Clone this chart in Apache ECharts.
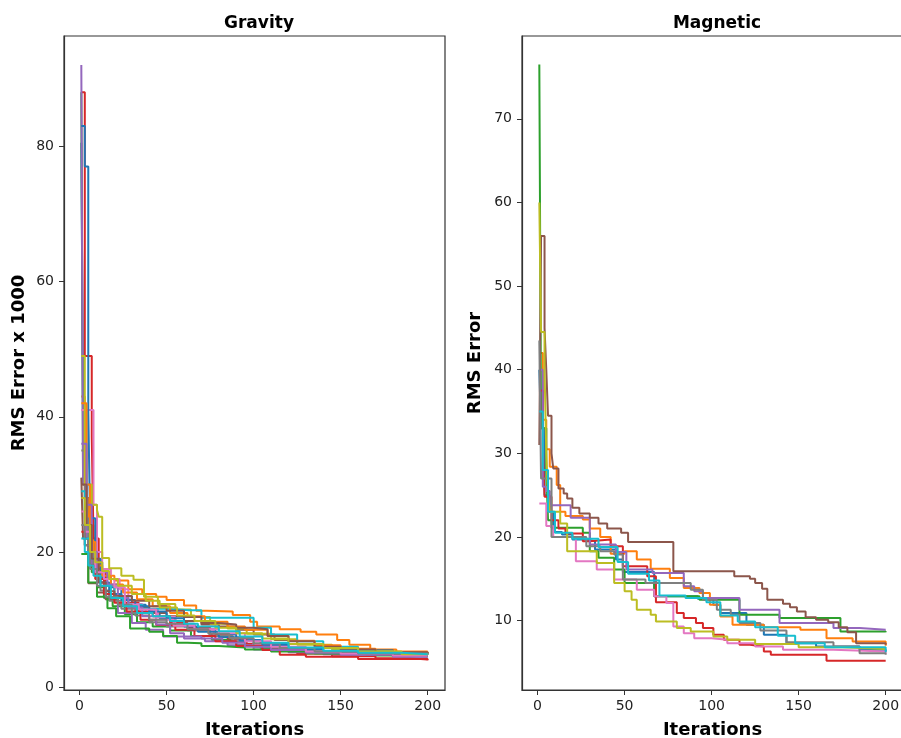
<!DOCTYPE html>
<html>
<head>
<meta charset="utf-8">
<script src="https://cdn.jsdelivr.net/npm/echarts@6/dist/echarts.min.js"></script>
<style>
  html, body { margin: 0; padding: 0; background: #fff; }
  #chart { width: 901px; height: 738px; }
</style>
</head>
<body>
<div id="chart"></div>
<script>
// tick labels
let xTicks = [0, 50, 100, 150, 200];
let gravTicks = [0, 20, 40, 60, 80];
let magTicks = [10, 20, 30, 40, 50, 60, 70];

// matplotlib tab10
let colors = ["#1f77b4", "#ff7f0e", "#2ca02c", "#d62728", "#9467bd",
              "#8c564b", "#e377c2", "#7f7f7f", "#bcbd22", "#17becf"];

// gravity runs: [iteration, rms error x 1000] at each change
let g01 = [[1,80.5],[2,41],[4,28],[6,22],[9,18.5],[13,16.2],[18,14.8],[24,13.5],[30,12.2],[38,11.0],[46,10.2],[55,9.4],[66,8.6],[78,7.8],[90,7.0],[104,6.4],[120,5.8],[140,5.3],[165,4.9],[185,4.6],[200,4.6]];
let g02 = [[1,43],[3,28],[5,24],[8,20],[10,17.5],[14,16.5],[20,15.8],[28,14.5],[36,13.8],[44,13.4],[50,12.9],[60,12.1],[67,11.3],[73,11.2],[88,10.7],[98,9.7],[102,9.0],[115,8.6],[127,8.2],[136,7.8],[148,7.0],[155,6.3],[167,5.6],[182,5.2],[200,5.0]];
let g03 = [[1,88],[2,30],[4,22],[7,17],[10,14.8],[14,13.2],[19,12.0],[26,10.8],[33,9.6],[42,9.0],[52,8.4],[64,7.6],[76,7.0],[90,6.3],[104,5.8],[120,5.3],[140,5.0],[165,4.7],[200,4.6]];
let g04 = [[1,88],[3,49],[7,37],[8,22],[11,17.5],[15,15.0],[20,13.5],[26,12.5],[34,11.2],[42,10.5],[52,9.5],[62,8.8],[75,7.8],[85,7.2],[96,6.4],[110,5.6],[125,5.0],[145,4.6],[170,4.3],[190,4.1],[200,4.1]];
let g05 = [[1,92],[2,30],[4,22],[7,18],[10,15.5],[15,13.0],[22,11.0],[30,9.5],[38,8.5],[48,7.5],[60,7.2],[72,6.8],[85,6.2],[100,5.6],[120,5.2],[140,4.9],[165,4.7],[200,4.6]];
let g06 = [[1,31],[2,22],[5,15.4],[10,14.0],[15,13.0],[22,12.4],[30,11.8],[40,11.0],[50,10.5],[60,9.8],[70,9.3],[80,9.0],[90,8.5],[100,7.8],[112,7.0],[125,6.4],[140,5.9],[160,5.5],[180,5.0],[200,4.9]];
let g07 = [[1,41],[8,27],[10,20],[13,17.5],[18,16.0],[23,14.5],[28,12.3],[36,11.5],[45,10.4],[55,9.3],[66,8.5],[77,7.6],[88,6.9],[100,6.2],[115,5.6],[135,5.2],[160,4.9],[185,4.6],[200,4.5]];
let g08 = [[1,35],[3,25],[5,20],[8,17],[12,14.3],[17,12.8],[24,11.6],[32,10.6],[40,9.6],[50,9.0],[62,8.4],[75,7.6],[88,6.8],[100,6.0],[115,5.4],[135,5.0],[160,4.8],[200,4.7]];
let g09 = [[1,49],[3,30],[7,27],[10,26.2],[11,25.2],[13,19.1],[17,17.6],[24,16.5],[31,15.9],[37,13.4],[45,12.3],[55,11.5],[64,10.4],[75,9.4],[85,8.7],[96,7.9],[110,7.1],[125,6.3],[145,5.6],[170,5.2],[200,5.0]];
let g10 = [[1,29],[3,22],[6,19],[9,16.5],[14,15],[20,13.4],[28,12.2],[36,11.6],[50,11.4],[63,11.4],[70,10.3],[92,10.3],[100,8.8],[110,7.8],[125,6.8],[140,6.0],[160,5.4],[180,5.0],[200,4.8]];
let g11 = [[1,83],[3,77],[5,41],[6,25],[9,19],[12,15.5],[17,13.8],[24,12.9],[32,12.0],[40,11.2],[50,10.2],[60,9.0],[68,8.2],[80,7.4],[92,6.9],[105,6.2],[120,5.6],[140,5.2],[160,4.9],[185,4.6],[200,4.5]];
let g12 = [[1,42],[4,30],[6,21.5],[9,18.0],[13,16.5],[18,15.2],[25,14.0],[33,13.0],[42,12.0],[52,11.0],[62,10.5],[72,9.7],[85,9.0],[95,8.5],[108,7.6],[120,6.9],[135,6.2],[150,5.7],[170,5.3],[200,5.2]];
let g13 = [[1,19.7],[5,15.5],[10,13.4],[16,11.7],[21,10.5],[29,8.7],[40,8.2],[48,7.6],[56,6.6],[62,6.5],[70,6.1],[80,5.9],[95,5.6],[110,5.3],[130,5.0],[150,4.8],[175,4.6],[200,4.5]];
let g14 = [[1,23],[3,21],[6,18],[9,16.0],[14,13.8],[20,12.5],[27,11.2],[35,10.0],[44,9.2],[55,8.5],[66,7.6],[78,6.8],[90,6.1],[105,5.5],[115,4.8],[130,4.5],[160,4.2],[200,4.0]];
let g15 = [[1,36],[4,27],[7,20],[10,17.0],[16,15.2],[22,13.2],[28,11.8],[36,10.5],[44,9.3],[52,8.0],[60,7.5],[70,7.2],[82,6.6],[95,6.0],[110,5.5],[130,5.1],[150,4.8],[180,4.5],[200,4.4]];
let g16 = [[1,30],[4,24],[7,19],[11,15.5],[15,14.2],[20,13.5],[30,12.8],[40,12.0],[50,11.3],[60,10.4],[70,9.5],[80,9.3],[90,8.8],[100,8.6],[108,7.6],[120,6.8],[135,6.0],[150,5.6],[170,5.2],[200,5.0]];
let g17 = [[1,26],[3,23],[6,20],[9,17],[14,16.0],[20,14.8],[26,12.2],[34,11.5],[44,10.0],[54,9.1],[66,8.6],[80,8.0],[95,6.8],[110,6.0],[130,5.3],[150,5.0],[180,4.7],[200,4.6]];
let g18 = [[1,24],[3,21],[6,17.5],[10,15.0],[15,13.4],[22,12.2],[30,11.0],[40,10.0],[50,9.4],[62,8.6],[74,7.9],[86,7.3],[100,6.5],[115,5.8],[135,5.3],[160,5.0],[200,4.8]];
let g19 = [[1,28],[3,24],[6,20],[9,18.5],[13,17.2],[17,16.0],[22,15.0],[30,13.8],[38,12.8],[46,11.8],[56,10.6],[66,9.8],[78,8.8],[90,8.0],[105,7.2],[120,6.4],[140,5.8],[160,5.3],[185,4.9],[200,4.8]];
let g20 = [[1,22],[3,20],[5,18],[8,16.5],[12,15.0],[18,13.2],[25,12.0],[33,11.0],[42,10.5],[52,9.8],[60,9.4],[68,9.0],[80,8.3],[92,7.5],[105,6.6],[120,5.9],[140,5.4],[160,5.1],[185,4.9],[200,4.8]];

// magnetic runs: [iteration, rms error]
let m01 = [[1,40],[2,33],[4,25],[7,23],[9,21],[10,20.6],[14,20.3],[20,19.7],[28,19.5],[33,18.5],[45,17.3],[49,15.8],[67,12.9],[92,12.6],[101,11.9],[105,10.9],[120,9.5],[130,8.3],[143,7.3],[160,6.9],[185,6.5],[200,6.3]];
let m02 = [[1,42],[3,34],[5,30.5],[7,28.4],[11,26.2],[13,23],[16,22.5],[26,22.1],[30,21],[36,20],[42,18],[50,18.3],[57,17.3],[65,16.2],[76,15.1],[84,13.9],[93,13.3],[99,11.9],[105,10.5],[112,9.5],[130,9.2],[151,8.9],[166,7.9],[181,7.5],[200,7.0]];
let m03 = [[1,76.5],[2,33],[5,28],[6,22],[8,21.1],[26,20.5],[30,18.3],[35,17.5],[44,16.1],[50,14.5],[67,12.9],[93,12.5],[116,10.7],[139,10.3],[174,8.7],[200,8.6]];
let m04 = [[1,37.5],[3,31],[4,24.8],[8,22],[12,21],[16,20.4],[26,19.5],[30,19.7],[42,18.9],[49,16.5],[63,15.3],[68,12.2],[80,10.9],[84,10.3],[91,9.7],[95,9.1],[101,8.3],[107,7.7],[116,7.1],[122,6.9],[130,6.3],[134,5.9],[166,5.2],[200,5.2]];
let m05 = [[1,40],[3,26],[5,25.5],[7,23.8],[19,22.3],[30,19.1],[45,18.2],[51,16.1],[66,15.7],[84,14.1],[90,13.5],[95,12.7],[116,11.3],[139,9.7],[170,9.1],[185,8.9],[200,8.9]];
let m06 = [[1,31],[2,56],[4,45],[5,40],[6,34.5],[8,30],[9,28.2],[12,25.8],[15,25.2],[17,24.6],[20,23.5],[24,22.8],[30,22.3],[35,21.6],[40,21.0],[48,20.5],[52,19.4],[78,15.9],[113,15.3],[122,15.0],[125,14.5],[129,13.8],[132,12.5],[141,12.0],[145,11.6],[149,11.1],[154,10.4],[160,10.1],[167,9.8],[173,9.2],[178,8.6],[183,7.3],[200,7.1]];
let m07 = [[1,24],[5,21.3],[9,20.0],[22,17.1],[34,16.1],[44,14.9],[57,13.7],[67,12.9],[74,12.1],[78,9.3],[84,8.5],[90,7.9],[100,7.7],[109,7.3],[125,6.9],[141,6.5],[170,6.3],[200,6.1]];
let m08 = [[1,43.5],[2,27],[6,27],[8,20],[28,18.9],[36,18.3],[44,17.9],[49,14.9],[62,14.5],[88,13.7],[95,12.5],[103,11.3],[111,10.7],[116,9.7],[128,8.8],[143,7.4],[170,6.9],[185,6.1],[200,5.9]];
let m09 = [[1,60],[2,44.5],[4,40],[5,30],[6,25],[7,23],[13,21.6],[17,18.3],[34,16.9],[44,14.5],[50,13.5],[54,12.5],[57,11.3],[65,10.7],[68,9.9],[80,9.1],[88,8.7],[101,8.1],[109,7.7],[125,7.2],[150,6.8],[175,6.6],[200,6.6]];
let m10 = [[1,35],[3,28],[6,23],[10,20.5],[20,19.8],[35,18.8],[46,17.0],[52,15.6],[64,14.8],[70,13.0],[85,12.7],[97,12.2],[105,10.6],[115,9.9],[125,9.2],[138,8.2],[148,7.3],[165,6.8],[200,6.2]];

let gravRuns = [g01, g02, g03, g04, g05, g06, g07, g08, g09, g10,
                g11, g12, g13, g14, g15, g16, g17, g18, g19, g20];
let magRuns = [m01, m02, m03, m04, m05, m06, m07, m08, m09, m10];

let chart = echarts.init(document.getElementById("chart"), null, { renderer: "canvas" });

let textColor = "#222";
let font = "DejaVu Sans";

function xAxisFor(idx) {
  return {
    gridIndex: idx,
    type: "value",
    min: -8.95,
    max: 209.95,
    name: "Iterations",
    nameLocation: "middle",
    nameGap: 31,
    nameTextStyle: { fontFamily: font, fontWeight: "bold", fontSize: 18, color: "#000" },
    axisLine: { show: true, onZero: false, lineStyle: { color: "#333", width: 1.2 } },
    axisTick: { show: true, length: 5, lineStyle: { color: "#333" }, customValues: xTicks },
    axisLabel: { fontFamily: font, fontSize: 14, color: textColor, margin: 9, customValues: xTicks },
    splitLine: { show: false }
  };
}

function yAxisFor(idx, name, min, max, ticks, gap) {
  return {
    gridIndex: idx,
    type: "value",
    min: min,
    max: max,
    name: name,
    nameLocation: "middle",
    nameGap: gap,
    nameTextStyle: { fontFamily: font, fontWeight: "bold", fontSize: 18, color: "#000" },
    axisLine: { show: true, onZero: false, lineStyle: { color: "#333", width: 1.2 } },
    axisTick: { show: true, length: 5, lineStyle: { color: "#333" }, customValues: ticks },
    axisLabel: { fontFamily: font, fontSize: 14, color: textColor, margin: 10, customValues: ticks },
    splitLine: { show: false }
  };
}

let series = [];
gravRuns.forEach(function(run, i) {
  series.push({
    type: "line",
    xAxisIndex: 0,
    yAxisIndex: 0,
    data: run,
    step: "end",
    symbol: "none",
    lineStyle: { width: 2, color: colors[i % 10] }
  });
});
magRuns.forEach(function(run, i) {
  series.push({
    type: "line",
    xAxisIndex: 1,
    yAxisIndex: 1,
    data: run,
    step: "end",
    symbol: "none",
    lineStyle: { width: 2, color: colors[i % 10] }
  });
});

let option = {
  animation: false,
  backgroundColor: "#fff",
  title: [
    { text: "Gravity", left: 254, top: 10, textAlign: "center",
      textStyle: { fontFamily: font, fontWeight: "bold", fontSize: 17, color: "#000" } },
    { text: "Magnetic", left: 712, top: 10, textAlign: "center",
      textStyle: { fontFamily: font, fontWeight: "bold", fontSize: 17, color: "#000" } }
  ],
  grid: [
    { left: 64, top: 36, width: 381, height: 654, outerBoundsMode: "none", containLabel: false,
      show: true, borderColor: "#333", borderWidth: 1.2, backgroundColor: "transparent" },
    { left: 522, top: 36, width: 381, height: 654, outerBoundsMode: "none", containLabel: false,
      show: true, borderColor: "#333", borderWidth: 1.2, backgroundColor: "transparent" }
  ],
  xAxis: [xAxisFor(0), xAxisFor(1)],
  yAxis: [
    yAxisFor(0, "RMS Error x 1000", -0.4, 96.3, gravTicks, 36),
    yAxisFor(1, "RMS Error", 1.7, 79.9, magTicks, 38)
  ],
  series: series
};

chart.setOption(option);
</script>
</body>
</html>
